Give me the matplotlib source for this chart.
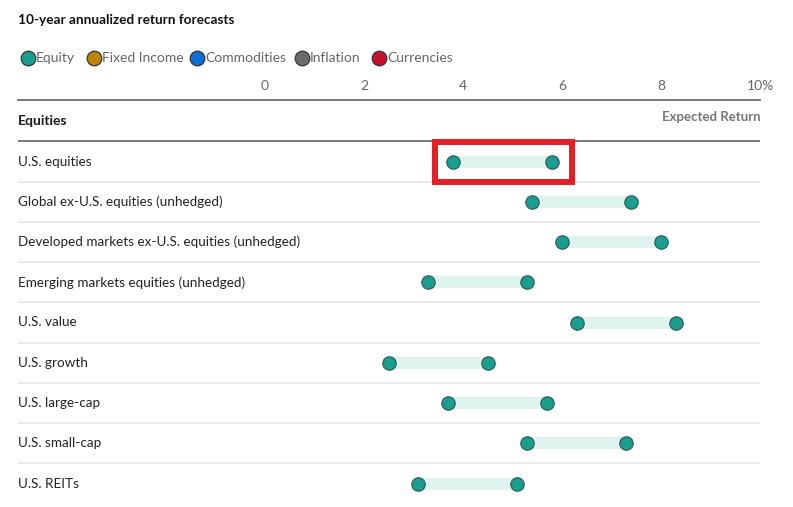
import matplotlib
matplotlib.use("Agg")
import matplotlib.pyplot as plt
from matplotlib.patches import Rectangle
from matplotlib.lines import Line2D

FONT = ["Lato", "DejaVu Sans"]
plt.rcParams["font.family"] = FONT

title = "10-year annualized return forecasts"
section = "Equities"
categories = [
    "U.S. equities",
    "Global ex-U.S. equities (unhedged)",
    "Developed markets ex-U.S. equities (unhedged)",
    "Emerging markets equities (unhedged)",
    "U.S. value",
    "U.S. growth",
    "U.S. large-cap",
    "U.S. small-cap",
    "U.S. REITs",
]
low = [3.8, 5.4, 6.0, 3.3, 6.3, 2.5, 3.7, 5.3, 3.1]
high = [5.8, 7.4, 8.0, 5.3, 8.3, 4.5, 5.7, 7.3, 5.1]
xticks = [0, 2, 4, 6, 8, 10]
xtick_labels = ["0", "2", "4", "6", "8", "10%"]
legend_names = ["Equity", "Fixed Income", "Commodities", "Inflation", "Currencies"]
legend_colors = ["#1a9e8f", "#bb8500", "#0b6fd8", "#6b6b6b", "#c8102e"]
highlight_index = 0

W, H = 793, 507
fig = plt.figure(figsize=(W / 100, H / 100), dpi=100)

# axes spanning pixel x 18..760, y 100..507
x0, x1 = 18, 760
y0, y1 = 100, 507
ax = fig.add_axes([x0 / W, 1 - y1 / H, (x1 - x0) / W, (y1 - y0) / H])
px_per_unit = 49.5
zero_px = 265
ax.set_xlim((x0 - zero_px) / px_per_unit, (x1 - zero_px) / px_per_unit)
row0, rowh = 161.5, 40.25
ax.set_ylim((y1 - row0) / rowh, (y0 - row0) / rowh)

for s in ["left", "right", "bottom"]:
    ax.spines[s].set_visible(False)
ax.spines["top"].set_color("#6b6b6b")
ax.spines["top"].set_linewidth(1.3)
ax.set_yticks([])
ax.xaxis.tick_top()
ax.set_xticks(xticks)
ax.set_xticklabels(xtick_labels)
ax.tick_params(axis="x", length=0, pad=6, labelsize=10, labelcolor="#666666")

n = len(categories)
ys = list(range(n))
xmin, xmax = ax.get_xlim()

# header line & separators
ax.axhline(-0.5, color="#6b6b6b", lw=1.3)
for i in range(n - 1):
    ax.axhline(i + 0.5, color="#e3e3e3", lw=1.1)

ax.text(xmin, -1, section, fontsize=10, fontweight="bold", color="#1a1a1a",
        va="center", ha="left")
ax.text(xmax, -1.1, "Expected Return", fontsize=9.5, fontweight="bold", color="#777777",
        va="center", ha="right")

for i, c in enumerate(categories):
    ax.text(xmin, i, c, fontsize=9.75, color="#222222", va="center", ha="left")

ax.hlines(ys, low, high, color="#dff4ee", lw=8.8, capstyle="butt", zorder=2)
ax.plot(low, ys, "o", ms=9.6, mfc="#1a9e8f", mec="#2f5f5a", mew=0.9, zorder=3, ls="none")
ax.plot(high, ys, "o", ms=9.6, mfc="#1a9e8f", mec="#2f5f5a", mew=0.9, zorder=3, ls="none")

# highlight box
hl, hh = low[highlight_index], high[highlight_index]
rect = Rectangle((hl - 0.36, highlight_index - 0.48), (hh - hl) + 0.76, 1.0,
                 fill=False, edgecolor="#e31e24", lw=4.3, zorder=4, clip_on=False)
ax.add_patch(rect)

# title
fig.text(18 / W, 1 - 20.5 / H, title, fontsize=9.8, fontweight="bold", color="#111111",
         va="center", ha="left")

# legend
leg_circle_x = [28, 94, 197, 302, 379]
for cx, name, col in zip(leg_circle_x, legend_names, legend_colors):
    fig.add_artist(Line2D([cx / W], [1 - 57.5 / H], marker="o", ms=10.5, mfc=col,
                          mec="#333333", mew=0.9, transform=fig.transFigure, ls="none"))
    fig.text((cx + 8) / W, 1 - 57.5 / H, name, fontsize=10, color="#666666",
             va="center", ha="left")

fig.savefig("out.png", dpi=100, facecolor="white")
